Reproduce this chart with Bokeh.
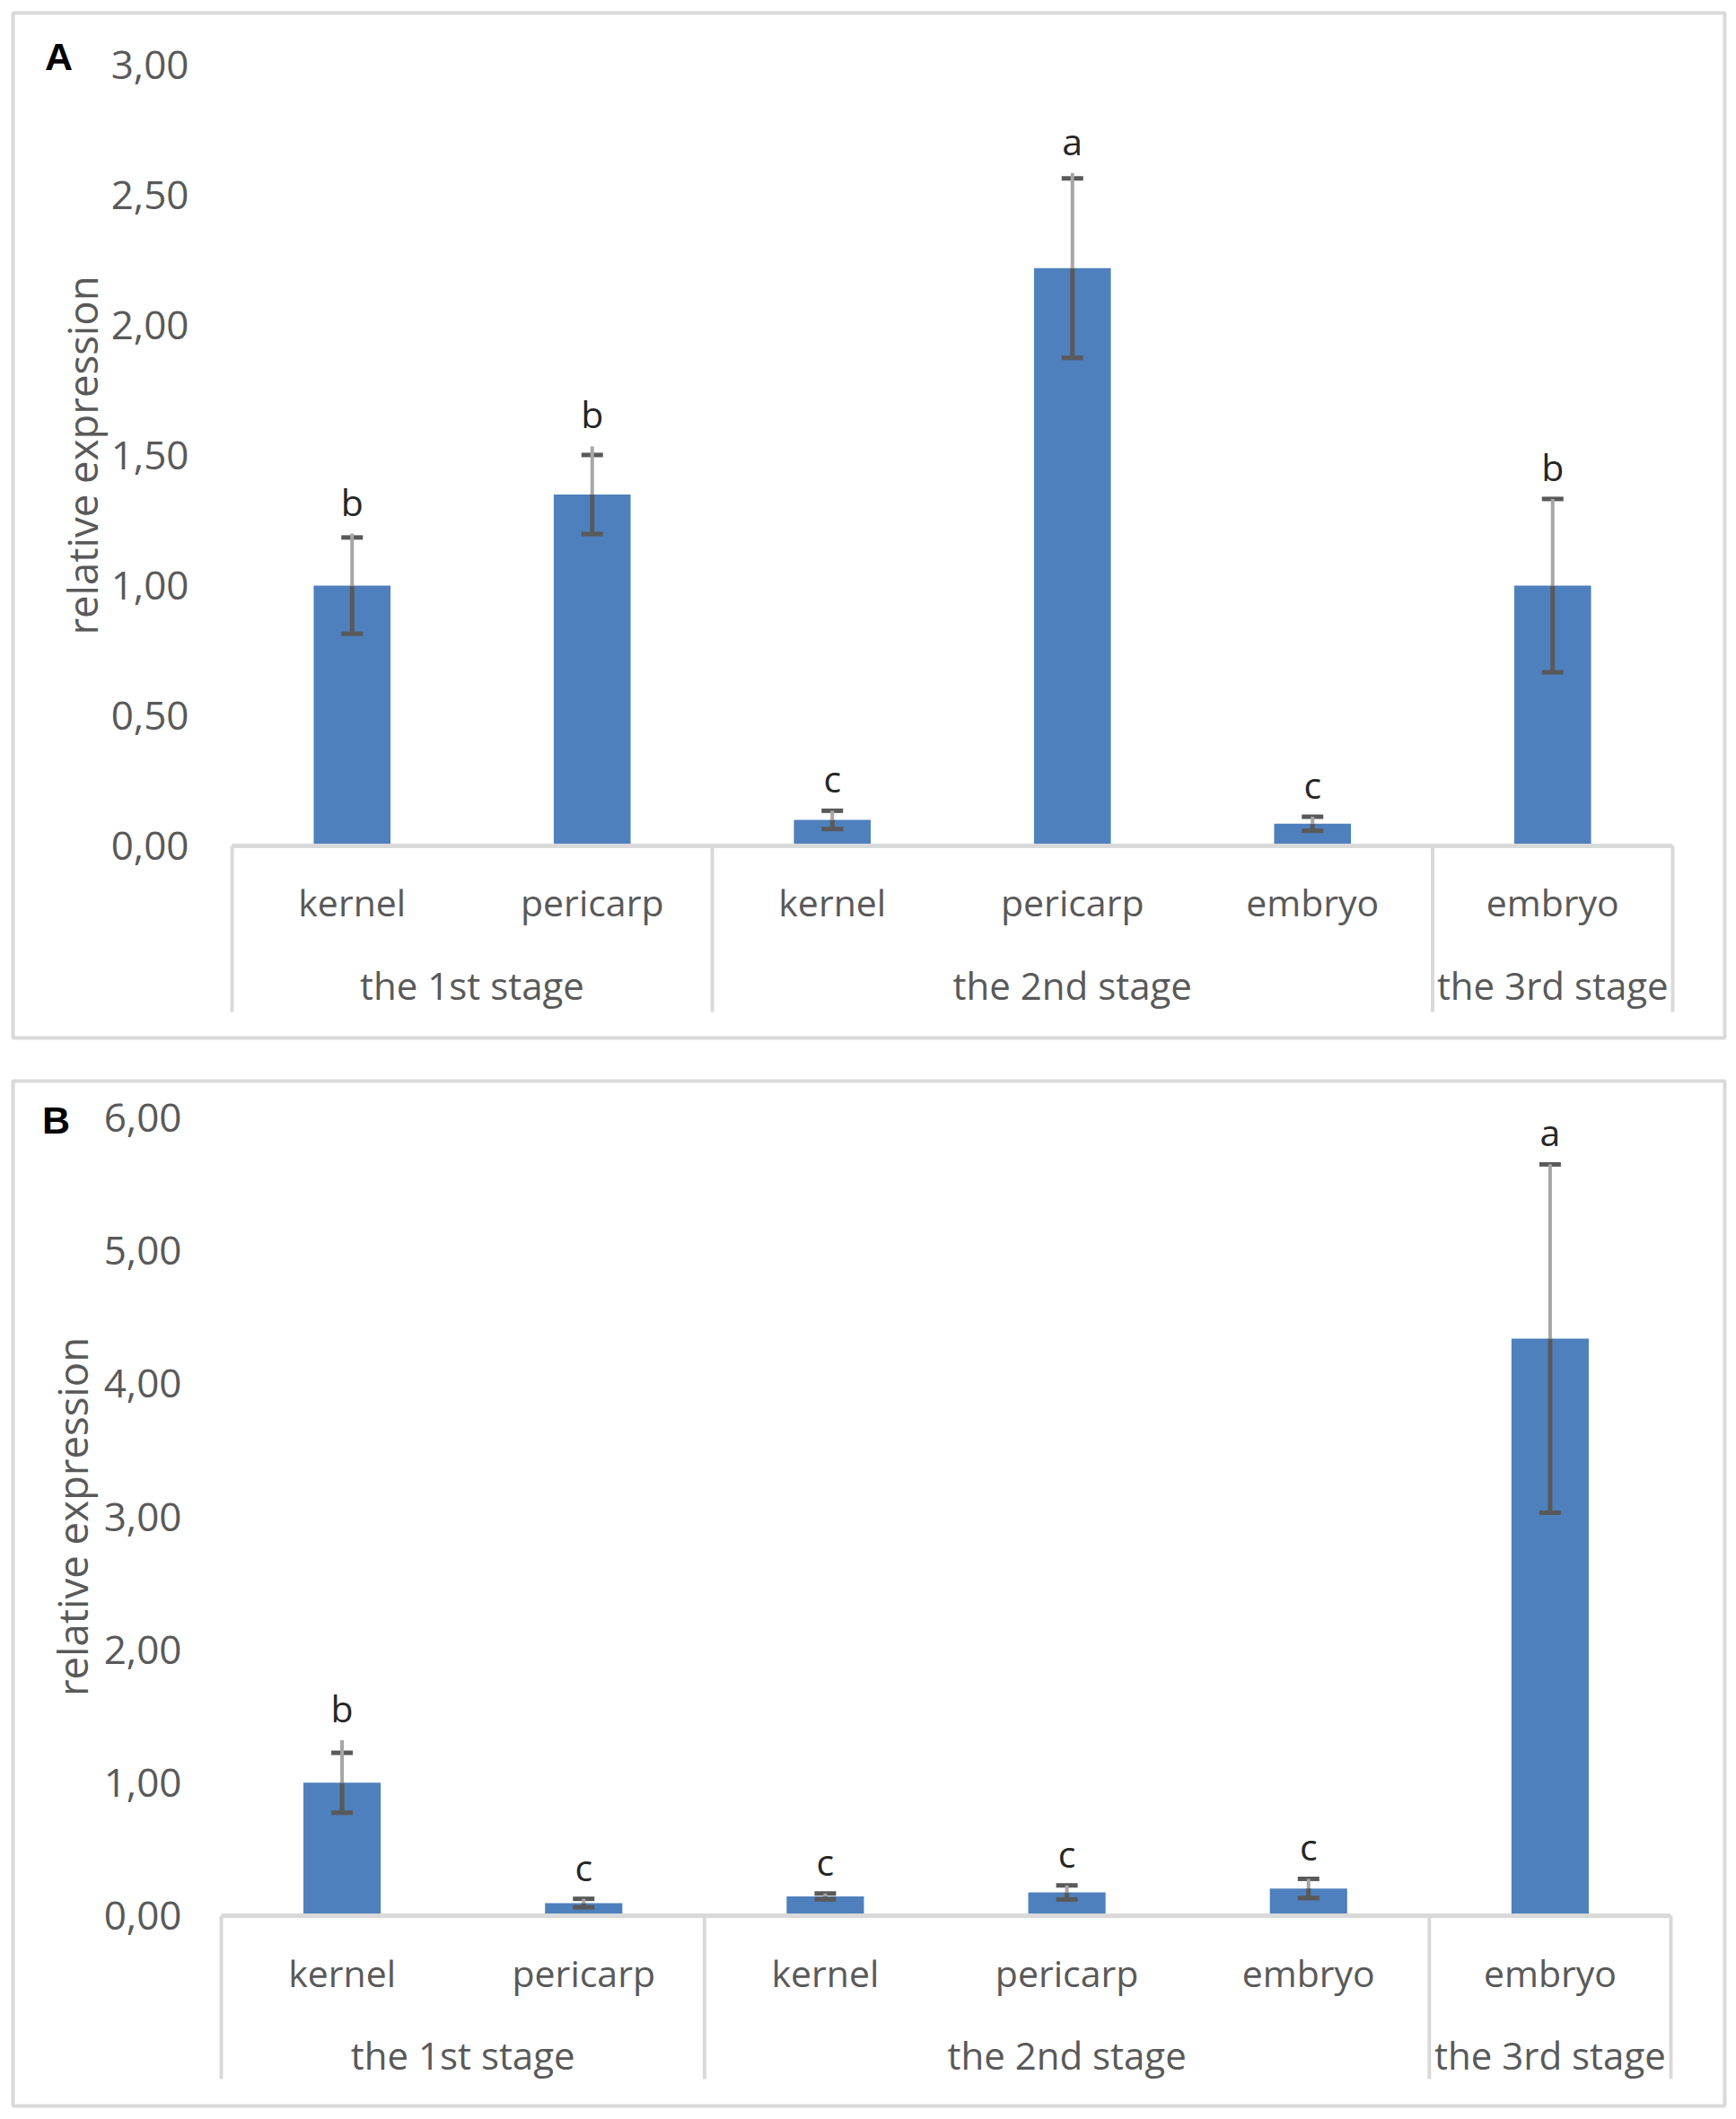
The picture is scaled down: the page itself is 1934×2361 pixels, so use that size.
import math
from bokeh.plotting import figure
from bokeh.models import Range1d, ColumnDataSource
from bokeh.layouts import column
from bokeh.embed import file_html
from bokeh.resources import INLINE
from bokeh.core.properties import value

# ---------------- data ----------------
tissues = ["kernel", "pericarp", "kernel", "pericarp", "embryo", "embryo"]
stages = ["the 1st stage", "the 2nd stage", "the 3rd stage"]
stage_sizes = [2, 3, 1]

a_values = [1.00, 1.35, 0.10, 2.22, 0.085, 1.00]
a_err = [0.185, 0.152, 0.035, 0.345, 0.027, 0.333]
a_gray = [0.20, 0.185, 0.035, 0.365, 0.027, 0.333]
a_letters = ["b", "b", "c", "a", "c", "b"]
a_ticks = [0, 0.5, 1.0, 1.5, 2.0, 2.5, 3.0]
a_tick_labels = ["0,00", "0,50", "1,00", "1,50", "2,00", "2,50", "3,00"]

b_values = [1.00, 0.095, 0.145, 0.175, 0.205, 4.34]
b_err = [0.225, 0.032, 0.022, 0.053, 0.072, 1.31]
b_gray = [0.32, 0.032, 0.022, 0.053, 0.072, 1.31]
b_letters = ["b", "c", "c", "c", "c", "a"]
b_ticks = [0, 1, 2, 3, 4, 5, 6]
b_tick_labels = ["0,00", "1,00", "2,00", "3,00", "4,00", "5,00", "6,00"]

y_title = "relative expression"

# ---------------- style ----------------
FONT = "Open Sans"
TXT = "#595959"
BAR = "#4E80BD"
GRID = "#D9D9D9"
DARK = "#595959"
LIGHT = "#A6A6A6"
W, H = 1930, 1180


def panel(tag, vals, err, gray, letters, ticks, tick_labels, L):
    ppx = (L["x1"] - L["x0"]) / 6.0
    ppy = (L["zero"] - L["ytop"]) / ticks[-1]
    xr = Range1d((0 - L["x0"]) / ppx, (W - L["x0"]) / ppx)
    yr = Range1d((L["zero"] - H) / ppy, (L["zero"] - 0) / ppy)
    p = figure(width=W, height=H, x_range=xr, y_range=yr,
               x_axis_type=None, y_axis_type=None,
               output_backend="svg", toolbar_location=None, min_border=0)
    p.outline_line_color = None
    p.grid.visible = False
    p.background_fill_color = "white"
    p.border_fill_color = "white"

    def dx(px):
        return (px - L["x0"]) / ppx

    def dy(py):
        return (L["zero"] - py) / ppy

    # outer box
    p.quad(left=[dx(L["bx0"])], right=[dx(L["bx1"])], top=[dy(L["by0"])], bottom=[dy(L["by1"])],
           fill_color=None, line_color=GRID, line_width=4)

    xs = [i + 0.5 for i in range(len(vals))]
    src = ColumnDataSource(dict(
        x=xs, top=vals,
        lo=[v - e for v, e in zip(vals, err)],
        hi=[v + e for v, e in zip(vals, err)],
        gh=[v + g for v, g in zip(vals, gray)],
        lt=[v + max(e, g) for v, e, g in zip(vals, err, gray)],
        let=letters, tis=tissues,
        cl=[x - 12 / ppx for x in xs], cr=[x + 12 / ppx for x in xs],
    ))
    p.vbar(x="x", top="top", bottom=0, width=0.32, source=src, fill_color=BAR, line_color=None)

    # category axis line and separators
    bounds = [0]
    for s in stage_sizes:
        bounds.append(bounds[-1] + s)
    p.segment(x0=[0], y0=[0], x1=[bounds[-1]], y1=[0], line_color=GRID, line_width=5)
    sep_bottom = dy(L["sep"])
    p.segment(x0=bounds, y0=[0] * len(bounds), x1=bounds, y1=[sep_bottom] * len(bounds),
              line_color=GRID, line_width=4)

    # error bars
    p.segment(x0="x", y0="top", x1="x", y1="lo", source=src, line_color=DARK, line_width=5)
    p.segment(x0="cl", y0="lo", x1="cr", y1="lo", source=src, line_color=DARK, line_width=5)
    p.segment(x0="cl", y0="hi", x1="cr", y1="hi", source=src, line_color=DARK, line_width=5)
    p.segment(x0="x", y0="top", x1="x", y1="gh", source=src, line_color=LIGHT, line_width=4)

    # significance letters
    p.text(x="x", y="lt", text="let", source=src, y_offset=-36,
           text_font=value(FONT), text_font_size="41px", text_color="#262626",
           text_align="center", text_baseline="middle")

    # value axis tick labels
    p.text(x=[dx(L["lab_r"])] * len(ticks), y=ticks, text=tick_labels,
           text_font=value(FONT), text_font_size="44px", text_color=TXT,
           text_align="right", text_baseline="middle")

    # category labels
    p.text(x="x", y=dy(L["cat"]), text="tis", source=src,
           text_font=value(FONT), text_font_size="41px", text_color=TXT,
           text_align="center", text_baseline="middle")
    mids = [(bounds[i] + bounds[i + 1]) / 2 for i in range(len(stages))]
    p.text(x=mids, y=[dy(L["grp"])] * len(mids), text=stages,
           text_font=value(FONT), text_font_size="42px", text_color=TXT,
           text_align="center", text_baseline="middle")

    # y axis title
    p.text(x=[dx(L["yl_x"])], y=[ticks[-1] / 2.0], text=[y_title], angle=math.pi / 2,
           text_font=value(FONT), text_font_size="45.5px", text_color=TXT,
           text_align="center", text_baseline="middle")
    # panel tag
    p.text(x=[dx(L["tag_x"])], y=[dy(L["tag_y"])], text=[tag],
           text_font=value("Liberation Sans"), text_font_style="bold",
           text_font_size="43px", text_color="black",
           text_align="center", text_baseline="middle")
    return p


LA = dict(bx0=14, bx1=1921, by0=14, by1=1156, x0=258, x1=1863, zero=942, ytop=72,
          lab_r=210, yl_x=90, cat=1004, grp=1097, sep=1127, tag_x=65, tag_y=62)
LB = dict(bx0=14, bx1=1921, by0=24, by1=1166, x0=246, x1=1861, zero=954, ytop=65,
          lab_r=202, yl_x=79, cat=1017, grp=1109, sep=1136, tag_x=62, tag_y=67)

pa = panel("A", a_values, a_err, a_gray, a_letters, a_ticks, a_tick_labels, LA)
pb = panel("B", b_values, b_err, b_gray, b_letters, b_ticks, b_tick_labels, LB)

lay = column(pa, pb, spacing=0)
open("out.html", "w").write(file_html(lay, INLINE))
